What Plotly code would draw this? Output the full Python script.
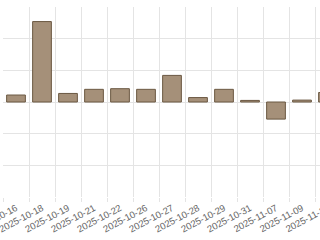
import plotly.graph_objects as go

dates = ["2025-10-16", "2025-10-18", "2025-10-19", "2025-10-21", "2025-10-22",
         "2025-10-26", "2025-10-27", "2025-10-28", "2025-10-29", "2025-10-31",
         "2025-11-07", "2025-11-09", "2025-11-10"]
values = [0.22, 2.54, 0.27, 0.40, 0.42, 0.40, 0.84, 0.14, 0.40, 0.05, -0.54, 0.06, 0.30]

fig = go.Figure(go.Bar(
    x=dates, y=values, width=0.72,
    marker=dict(color="#a59079", line=dict(color="#6b5842", width=1)),
))
fig.update_layout(
    width=346, height=240,
    margin=dict(l=3, r=5, t=7, b=43),
    paper_bgcolor="white", plot_bgcolor="white",
    showlegend=False,
    font=dict(family="Liberation Sans, Arial, sans-serif", size=10, color="#666666"),
)
fig.update_xaxes(
    type="category", range=[-0.5, 12.5], tickson="boundaries", automargin=False,
    showgrid=True, gridcolor="#e4e4e4", gridwidth=1,
    ticks="outside", ticklen=4, tickcolor="#e4e4e4",
    tickangle=-28, tickfont=dict(size=9.5, color="#666666"),
    ticklabelstandoff=3,
    showline=False, zeroline=False,
)
fig.update_yaxes(
    range=[-3, 3], dtick=1, showgrid=True, gridcolor="#e4e4e4", gridwidth=1,
    showticklabels=False, zeroline=False, showline=False, automargin=False,
)
fig.write_html("out.html", post_script="document.body.style.overflow='hidden';document.documentElement.style.overflow='hidden';")
